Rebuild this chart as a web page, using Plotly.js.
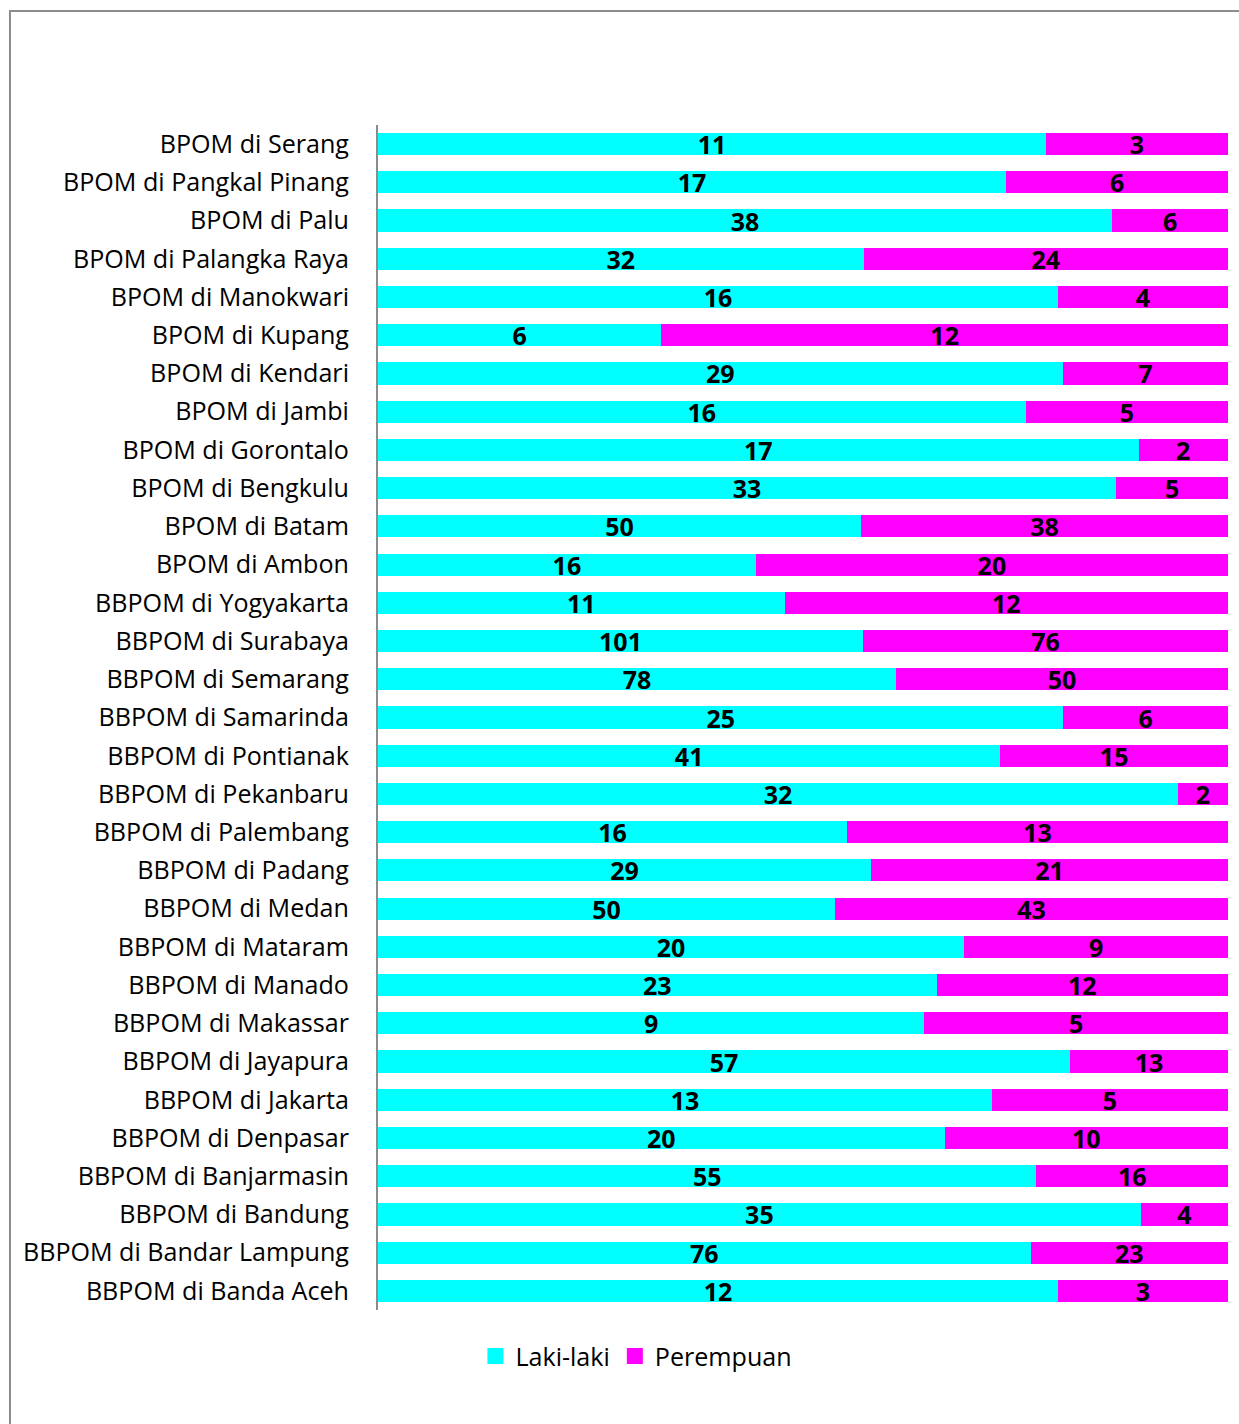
<!DOCTYPE html>
<html>
<head>
<meta charset="utf-8">
<script src="https://cdn.plot.ly/plotly-3.0.1.min.js"></script>
<style>
html,body{margin:0;padding:0;background:#fff;overflow:hidden;}
#frame{position:absolute;left:9px;top:10px;width:1300px;height:1500px;border:2px solid #8c8c8c;box-sizing:border-box;}
#chart{position:absolute;left:0;top:0;width:1239px;height:1424px;}
</style>
</head>
<body>
<div id="frame"></div>
<div id="chart"></div>
<script>
// Listed top to bottom as in the picture
const categories = [
  "BPOM di Serang","BPOM di Pangkal Pinang","BPOM di Palu","BPOM di Palangka Raya",
  "BPOM di Manokwari","BPOM di Kupang","BPOM di Kendari","BPOM di Jambi",
  "BPOM di Gorontalo","BPOM di Bengkulu","BPOM di Batam","BPOM di Ambon",
  "BBPOM di Yogyakarta","BBPOM di Surabaya","BBPOM di Semarang","BBPOM di Samarinda",
  "BBPOM di Pontianak","BBPOM di Pekanbaru","BBPOM di Palembang","BBPOM di Padang",
  "BBPOM di Medan","BBPOM di Mataram","BBPOM di Manado","BBPOM di Makassar",
  "BBPOM di Jayapura","BBPOM di Jakarta","BBPOM di Denpasar","BBPOM di Banjarmasin",
  "BBPOM di Bandung","BBPOM di Bandar Lampung","BBPOM di Banda Aceh"
];
const lakiLaki = [11,17,38,32,16,6,29,16,17,33,50,16,11,101,78,25,41,32,16,29,50,20,23,9,57,13,20,55,35,76,12];
const perempuan = [3,6,6,24,4,12,7,5,2,5,38,20,12,76,50,6,15,2,13,21,43,9,12,5,13,5,10,16,4,23,3];
const seriesNames = ["Laki-laki","Perempuan"];
const seriesColors = ["#00FFFF","#FF00FF"];

const textFont = {family:"Open Sans, sans-serif", size:25, color:"#000", weight:"bold"};
const labelFont = {family:"Open Sans, sans-serif", size:25.1, color:"#000"};

const traces = [
  {type:"bar", orientation:"h", name:seriesNames[0], y:categories, x:lakiLaki, showlegend:false,
   marker:{color:seriesColors[0]}, text:lakiLaki.map(String), textposition:"inside", textangle:0,
   insidetextanchor:"middle", textfont:textFont, constraintext:"none", cliponaxis:false},
  {type:"bar", orientation:"h", name:seriesNames[1], y:categories, x:perempuan, showlegend:false,
   marker:{color:seriesColors[1]}, text:perempuan.map(String), textposition:"inside", textangle:0,
   insidetextanchor:"middle", textfont:textFont, constraintext:"none", cliponaxis:false},
  // legend entries with larger square symbols
  {type:"scatter", mode:"markers", name:seriesNames[0], x:[null], y:[null],
   marker:{symbol:"square", size:16, color:seriesColors[0]}, hoverinfo:"skip"},
  {type:"scatter", mode:"markers", name:seriesNames[1], x:[null], y:[null],
   marker:{symbol:"square", size:16, color:seriesColors[1]}, hoverinfo:"skip"}
];

const layout = {
  width:1239, height:1424,
  paper_bgcolor:"rgba(0,0,0,0)", plot_bgcolor:"rgba(0,0,0,0)",
  barmode:"stack", barnorm:"percent", bargap:0.42,
  margin:{l:378, r:11, t:125, b:114},
  font:labelFont,
  xaxis:{range:[0,100.001], showticklabels:false, showgrid:false, zeroline:false, showline:false, ticks:"", fixedrange:true},
  yaxis:{type:"category", categoryorder:"array", categoryarray:categories, autorange:"reversed",
         showline:true, linecolor:"#8c8c8c", linewidth:2, ticks:"",
         ticklabelstandoff:22, tickfont:labelFont,
         showgrid:false, zeroline:false},
  legend:{orientation:"h", x:0.304, xanchor:"center", y:-0.039, yanchor:"middle",
          font:labelFont, traceorder:"normal", itemwidth:30},
  showlegend:true
};

Plotly.newPlot("chart", traces, layout, {displayModeBar:false, staticPlot:true});
</script>
</body>
</html>
